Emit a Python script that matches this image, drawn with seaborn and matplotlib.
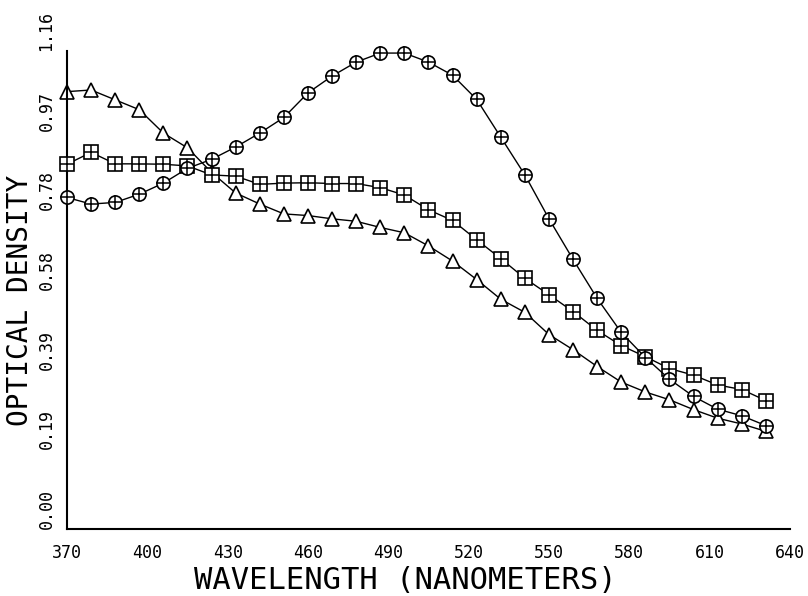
import matplotlib
matplotlib.use("Agg")
import matplotlib.pyplot as plt
import seaborn as sns
import numpy as np

# ---- data ----
wavelength = [370, 379, 388, 397, 406, 415, 424, 433, 442, 451, 460, 469, 478, 487, 496,
              505, 514, 523, 532, 541, 550, 559, 568, 577, 586, 595, 604, 613, 622, 631]

circle_od = [0.808, 0.792, 0.796, 0.816, 0.843, 0.879, 0.901, 0.931, 0.965, 1.003,
             1.063, 1.104, 1.138, 1.160, 1.160, 1.138, 1.106, 1.047, 0.955, 0.863,
             0.756, 0.657, 0.562, 0.479, 0.418, 0.365, 0.323, 0.292, 0.276, 0.252]

square_od = [0.889, 0.918, 0.890, 0.890, 0.889, 0.885, 0.863, 0.860, 0.840, 0.843,
             0.844, 0.842, 0.842, 0.832, 0.814, 0.778, 0.752, 0.705, 0.659, 0.611,
             0.571, 0.530, 0.484, 0.447, 0.420, 0.391, 0.375, 0.351, 0.340, 0.313]

triangle_od = [1.066, 1.070, 1.046, 1.022, 0.965, 0.929, 0.869, 0.819, 0.792, 0.768,
               0.764, 0.756, 0.750, 0.735, 0.722, 0.690, 0.653, 0.608, 0.560, 0.528,
               0.474, 0.437, 0.396, 0.358, 0.334, 0.315, 0.291, 0.270, 0.256, 0.238]

x_ticks = [370, 400, 430, 460, 490, 520, 550, 580, 610, 640]
y_tick_labels = ["0.00", "0.19", "0.39", "0.58", "0.78", "0.97", "1.16"]
y_max = 1.165

# ---- style ----
sns.set_style("white")
plt.rcParams['font.family'] = ['DejaVu Sans Mono', 'DejaVu Sans']

fig = plt.figure(figsize=(8.08, 5.96), dpi=100)
ax = fig.add_axes([0.0829, 0.1124, 0.8948, 0.802])

common = dict(color="black", linewidth=1.0, markersize=9.5, markeredgewidth=1.2,
              markerfacecolor="white", markeredgecolor="black", clip_on=False)

sns.lineplot(x=wavelength, y=triangle_od, marker="^", ax=ax, zorder=2, **common)
sns.lineplot(x=wavelength, y=square_od, marker="s", ax=ax, zorder=3, **common)
sns.scatterplot(x=wavelength, y=square_od, marker="+", s=90, color="black",
                linewidth=1.1, ax=ax, zorder=3.1, clip_on=False)
sns.lineplot(x=wavelength, y=circle_od, marker="o", ax=ax, zorder=4, **common)
sns.scatterplot(x=wavelength, y=circle_od, marker="+", s=90, color="black",
                linewidth=1.1, ax=ax, zorder=4.1, clip_on=False)

ax.set_xlim(370, 640)
ax.set_ylim(0, y_max)
ax.set_xticks(x_ticks)
ax.set_xticklabels([str(v) for v in x_ticks])
ax.set_yticks(np.linspace(0, y_max, len(y_tick_labels)))
ax.set_yticklabels(y_tick_labels)

for s in ["top", "right"]:
    ax.spines[s].set_visible(False)
for s in ["left", "bottom"]:
    ax.spines[s].set_linewidth(1.5)
    ax.spines[s].set_color("black")

ax.tick_params(axis="x", direction="out", length=5, width=1.2, pad=6,
               labelsize=12, colors="black")
ax.tick_params(axis="y", direction="out", length=3.6, width=1.2, pad=4.7,
               labelsize=12, colors="black")
plt.setp(ax.get_yticklabels(), rotation=90, va="bottom", ha="right")

ax.set_xlabel("WAVELENGTH (NANOMETERS)", fontsize=22, color="black")
ax.xaxis.set_label_coords(0.4675, -0.077)
ax.xaxis.label.set_va("top")
ax.set_ylabel("OPTICAL DENSITY", fontsize=20, color="black")
ax.yaxis.set_label_coords(-0.0455, 0.479)

ax.grid(False)
fig.savefig("out.png", dpi=100, facecolor="white")
